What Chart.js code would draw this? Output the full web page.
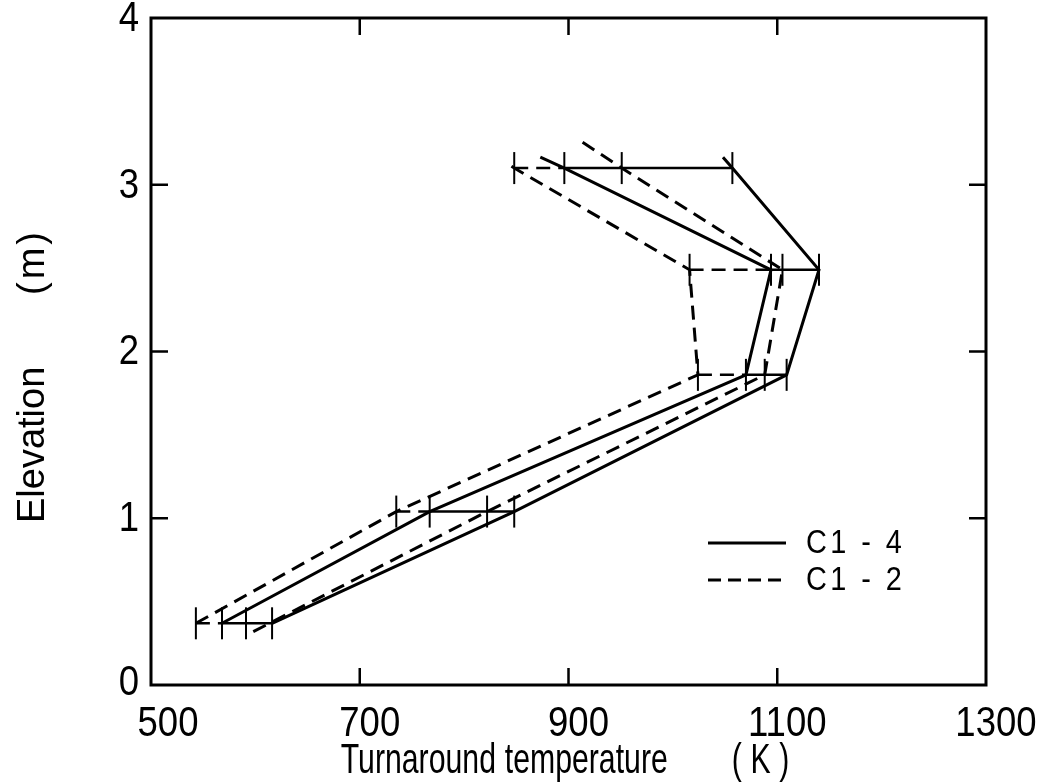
<!DOCTYPE html>
<html>
<head>
<meta charset="utf-8">
<script src="https://cdn.jsdelivr.net/npm/chart.js@4"></script>
<style>
  html, body { margin: 0; padding: 0; background: #fff; }
  canvas { display: block; }
</style>
</head>
<body>
<canvas id="c" width="1038" height="782"></canvas>
<script>
// Measurement elevations (m) where the temperature ranges were taken
const elevations = [0.37, 1.04, 1.86, 2.49, 3.10];

// Range end points at each elevation (K)
const c12Low  = [543, 735, 1024, 1016, 848];
const c14Low  = [568, 767, 1070, 1094, 896];
const c12High = [591, 822, 1088, 1105, 951];
const c14High = [616, 848, 1109, 1140, 1057];

// Envelope profiles (temperature K, elevation m)
const c14LowT  = [568, 767, 1070, 1094, 896, 873];
const c14LowZ  = [0.37, 1.04, 1.86, 2.49, 3.10, 3.165];
const c14HighT = [616, 848, 1109, 1140, 1057, 1048];
const c14HighZ = [0.37, 1.04, 1.86, 2.49, 3.10, 3.165];
const c12LowT  = [543, 735, 1024, 1016, 848, 839];
const c12LowZ  = [0.37, 1.04, 1.86, 2.49, 3.10, 3.135];
const c12HighT = [598, 822, 1088, 1105, 951, 910];
const c12HighZ = [0.32, 1.04, 1.86, 2.49, 3.10, 3.27];

// Axis ranges and tick values
const xTicks = [500, 700, 900, 1100, 1300];
const yTicks = [0, 1, 2, 3, 4];
const xTitleWords = ['Turnaround', 'temperature', '(K)'];
const yTitleWords = ['Elevation', '(m)'];

// Legend entries
const legendLabels = ['C1 - 4', 'C1 - 2'];

const FONT = "'Liberation Sans', Arimo, 'DejaVu Sans', sans-serif";
const DASH = [14, 8];
const TICK_LEN = 17;

const pts = (T, Z) => T.map((t, i) => ({ x: t, y: Z[i] }));

const datasets = [];
const profile = (T, Z, dashed) => ({
  type: 'line',
  data: pts(T, Z),
  borderColor: '#000',
  borderWidth: 3,
  borderDash: dashed ? DASH : [],
  pointRadius: 0,
  tension: 0,
  fill: false
});
datasets.push(profile(c14LowT, c14LowZ, false));
datasets.push(profile(c14HighT, c14HighZ, false));
datasets.push(profile(c12LowT, c12LowZ, true));
datasets.push(profile(c12HighT, c12HighZ, true));

// Horizontal range bars at each elevation
elevations.forEach((z, i) => {
  datasets.push({
    type: 'line',
    data: [{ x: c12Low[i], y: z }, { x: c14Low[i], y: z }],
    borderColor: '#000', borderWidth: 2.5, borderDash: DASH,
    pointRadius: 0, fill: false
  });
  datasets.push({
    type: 'line',
    data: [{ x: c14Low[i], y: z }, { x: c14High[i], y: z }],
    borderColor: '#000', borderWidth: 2.5,
    pointRadius: 0, fill: false
  });
});

// Vertical marks at every range end point
const marks = [];
elevations.forEach((z, i) => {
  [c12Low[i], c14Low[i], c12High[i], c14High[i]].forEach(t => marks.push({ x: t, y: z }));
});
datasets.push({
  type: 'scatter',
  data: marks,
  pointStyle: 'line',
  rotation: 90,
  pointRadius: 16,
  pointHoverRadius: 16,
  pointBorderWidth: 2,
  borderColor: '#000',
  backgroundColor: '#000',
  showLine: false
});

// Draw text horizontally squeezed to mimic narrow lettering
function squeezedText(ctx, text, x, y, align, squeeze, spacing) {
  ctx.save();
  ctx.translate(x, y);
  ctx.scale(squeeze, 1);
  ctx.textAlign = align;
  ctx.letterSpacing = (spacing || 0) + 'px';
  ctx.fillText(text, 0, 0);
  ctx.restore();
}

// Frame, inward tick marks, tick labels, axis titles and legend
const decorations = {
  id: 'decorations',
  afterDatasetsDraw(chart) {
    const { ctx, chartArea: a, scales: { x, y } } = chart;
    ctx.save();
    ctx.strokeStyle = '#000';
    ctx.fillStyle = '#000';
    ctx.setLineDash([]);
    ctx.lineWidth = 3;
    ctx.strokeRect(a.left, a.top, a.right - a.left, a.bottom - a.top);

    ctx.lineWidth = 2.5;
    ctx.beginPath();
    xTicks.slice(1, -1).forEach(v => {
      const px = x.getPixelForValue(v);
      ctx.moveTo(px, a.bottom); ctx.lineTo(px, a.bottom - TICK_LEN);
      ctx.moveTo(px, a.top); ctx.lineTo(px, a.top + TICK_LEN);
    });
    yTicks.slice(1, -1).forEach(v => {
      const py = y.getPixelForValue(v);
      ctx.moveTo(a.left, py); ctx.lineTo(a.left + TICK_LEN, py);
      ctx.moveTo(a.right, py); ctx.lineTo(a.right - TICK_LEN, py);
    });
    ctx.stroke();

    // tick labels
    ctx.font = '43px ' + FONT;
    ctx.textBaseline = 'middle';
    xTicks.forEach((v, i) => {
      const px = x.getPixelForValue(v) + (i === 0 ? 17 : 10);
      squeezedText(ctx, String(v), px, a.bottom + 39, 'center', 0.85);
    });
    yTicks.forEach(v => {
      const py = y.getPixelForValue(v);
      squeezedText(ctx, String(v), a.left - 12, py + (v === 0 ? -2 : 1), 'right', 0.85);
    });

    // x axis title
    ctx.font = '42px ' + FONT;
    ctx.textBaseline = 'alphabetic';
    const tx = x.getPixelForValue(xTicks[1]);
    squeezedText(ctx, xTitleWords[0], tx - 19, a.bottom + 88, 'left', 0.72);
    squeezedText(ctx, xTitleWords[1], tx + 145, a.bottom + 88, 'left', 0.72);
    squeezedText(ctx, xTitleWords[2], tx + 372, a.bottom + 88, 'left', 0.72, 12);

    // y axis title
    ctx.save();
    ctx.translate(44, a.top + 505);
    ctx.rotate(-Math.PI / 2);
    ctx.font = '38px ' + FONT;
    ctx.textAlign = 'left';
    ctx.fillText(yTitleWords[0], 0, 0);
    ctx.letterSpacing = '3px';
    ctx.fillText(yTitleWords[1], 228, 0);
    ctx.restore();

    // legend
    const lx0 = a.left + 557, lx1 = a.left + 635;
    const rows = [a.top + 525, a.top + 562];
    ctx.lineWidth = 3;
    ctx.beginPath();
    ctx.moveTo(lx0, rows[0]); ctx.lineTo(lx1, rows[0]);
    ctx.stroke();
    ctx.setLineDash([13, 7]);
    ctx.beginPath();
    ctx.moveTo(lx0, rows[1]); ctx.lineTo(lx1, rows[1]);
    ctx.stroke();
    ctx.setLineDash([]);
    ctx.font = '34px ' + FONT;
    ctx.textBaseline = 'middle';
    legendLabels.forEach((t, i) => squeezedText(ctx, t, lx1 + 20, rows[i] + 1, 'left', 0.85, 4));
    ctx.restore();
  }
};

new Chart(document.getElementById('c'), {
  type: 'scatter',
  data: { datasets },
  options: {
    responsive: false,
    animation: false,
    events: [],
    layout: { padding: { left: 151, right: 52, top: 17, bottom: 97 } },
    plugins: { legend: { display: false }, tooltip: { enabled: false } },
    scales: {
      x: { type: 'linear', min: 500, max: 1300, display: false },
      y: { type: 'linear', min: 0, max: 4, display: false }
    }
  },
  plugins: [decorations]
});
</script>
</body>
</html>
